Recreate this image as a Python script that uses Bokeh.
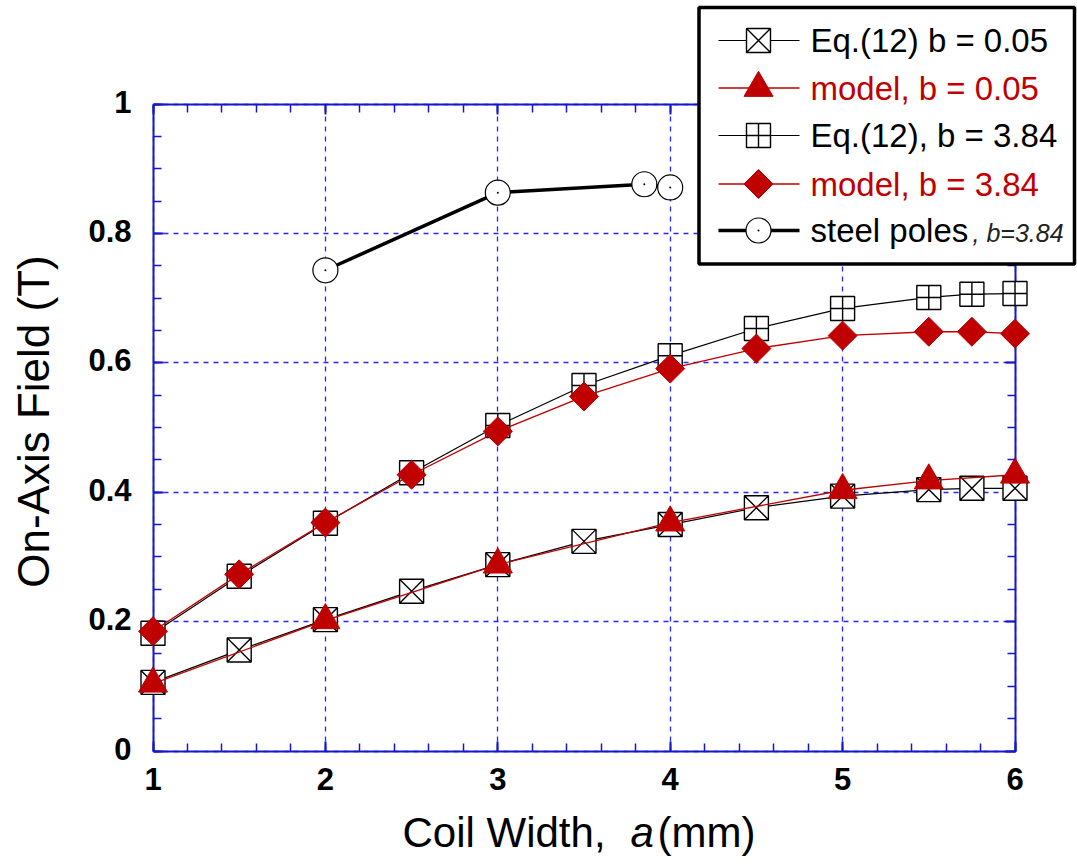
import numpy as np
from math import pi
from bokeh.plotting import figure
from bokeh.models import Range1d, LinearAxis, FixedTicker, Grid
from bokeh.core.properties import value
from bokeh.embed import file_html
from bokeh.resources import INLINE

# ---------------- data ----------------
x_eq = [1, 1.5, 2, 2.5, 3, 3.5, 4, 4.5, 5, 5.5, 5.75, 6]
eq_b005 = [0.106, 0.156, 0.203, 0.247, 0.288, 0.324, 0.350, 0.376, 0.394, 0.404, 0.406, 0.406]
eq_b384 = [0.182, 0.270, 0.352, 0.430, 0.503, 0.565, 0.611, 0.653, 0.684, 0.701, 0.706, 0.707]

x_model_b005 = [1, 2, 3, 4, 5, 5.5, 6]
model_b005 = [0.104, 0.202, 0.288, 0.353, 0.403, 0.418, 0.427]

x_model_b384 = [1, 1.5, 2, 2.5, 3, 3.5, 4, 4.5, 5, 5.5, 5.75, 6]
model_b384 = [0.185, 0.273, 0.353, 0.427, 0.494, 0.548, 0.591, 0.622, 0.642, 0.648, 0.648, 0.645]

x_steel = [2, 3, 3.85, 4]
steel = [0.743, 0.863, 0.876, 0.871]

x_ticks = [1, 2, 3, 4, 5, 6]
x_tick_labels = ["1", "2", "3", "4", "5", "6"]
y_ticks = [0, 0.2, 0.4, 0.6, 0.8, 1.0]
y_tick_labels = ["0", "0.2", "0.4", "0.6", "0.8", "1"]

legend_labels = ["Eq.(12) b = 0.05", "model, b = 0.05", "Eq.(12), b = 3.84",
                 "model, b = 3.84", "steel poles"]
legend_note = ", b=3.84"
x_label_parts = ["Coil Width,", "a", "(mm)"]
y_label = "On-Axis Field (T)"

# ---------------- layout (pixels) ----------------
W, H = 1077, 864
X0_PX, X1_PX = 152.5, 1014.5                # pixel of first / last x tick
Y0_PX, Y1_PX = 750.5, 103.5                 # pixel of first / last y tick
XMIN, XMAX = x_ticks[0], x_ticks[-1]
YMIN, YMAX = y_ticks[0], y_ticks[-1]
SX = (X1_PX - X0_PX) / (XMAX - XMIN)
SY = (Y0_PX - Y1_PX) / (YMAX - YMIN)


def px2x(px):
    return XMIN + (px - X0_PX) / SX


def py2y(py):
    return YMIN + (Y0_PX - py) / SY


BLUE = "#1616cc"
GRID_BLUE = "#0000ff"
RED = "#c00000"
FONT = "Liberation Sans"

p = figure(frame_width=W, frame_height=H,
           min_border_left=0, min_border_top=0, min_border_right=0, min_border_bottom=0,
           x_range=Range1d(px2x(0), px2x(W)),
           y_range=Range1d(py2y(H), py2y(0)),
           x_axis_type=None, y_axis_type=None,
           output_backend="svg", toolbar_location=None)
p.outline_line_color = None
p.background_fill_color = "white"
p.border_fill_color = "white"

x_minor = [round(v, 2) for v in np.arange(XMIN, XMAX + 1e-9, 0.2)]
y_minor = [round(v, 2) for v in np.arange(YMIN, YMAX + 1e-9, 0.05)]


def make_axis(loc, bounds, ticks, minor):
    ax = LinearAxis(fixed_location=loc, bounds=bounds,
                    ticker=FixedTicker(ticks=ticks, minor_ticks=minor))
    ax.axis_line_color = BLUE
    ax.axis_line_width = 2
    ax.major_tick_line_color = BLUE
    ax.major_tick_line_width = 2
    ax.minor_tick_line_color = BLUE
    ax.minor_tick_line_width = 1.5
    ax.major_tick_in = 10
    ax.major_tick_out = 0
    ax.minor_tick_in = 8
    ax.minor_tick_out = 0
    ax.major_label_overrides = {t: "" for t in ticks}
    ax.major_label_text_font_size = "0px"
    ax.major_label_standoff = 0
    return ax


p.add_layout(make_axis(YMIN, (XMIN, XMAX), x_ticks, x_minor), "below")
p.add_layout(make_axis(XMIN, (YMIN, YMAX), y_ticks, y_minor), "left")
p.add_layout(make_axis(XMAX, (YMIN, YMAX), y_ticks, y_minor), "right")
p.add_layout(make_axis(YMAX, (XMIN, XMAX), x_ticks, x_minor), "above")

# tick labels (bold), placed at the tick values
p.text(x=x_ticks, y=[YMIN] * len(x_ticks), text=x_tick_labels, y_offset=27.5,
       text_font=value(FONT), text_font_style="bold", text_font_size="31px",
       text_color="black", text_align="center", text_baseline="middle")
p.text(x=[XMIN] * len(y_ticks), y=y_ticks, text=y_tick_labels, x_offset=-21.5,
       y_offset=-2.5, text_font=value(FONT), text_font_style="bold",
       text_font_size="31px", text_color="black", text_align="right",
       text_baseline="middle")

# grid lines (dashed, blue)
grid_kw = dict(grid_line_color=GRID_BLUE, grid_line_alpha=0.85, grid_line_width=1.3,
               grid_line_dash="5 5")
try:
    gx = Grid(dimension=0, ticker=FixedTicker(ticks=x_ticks), bounds=(XMIN, XMAX),
              cross_bounds=(YMIN, YMAX), **grid_kw)
    gy = Grid(dimension=1, ticker=FixedTicker(ticks=y_ticks), bounds=(YMIN, YMAX),
              cross_bounds=(XMIN, XMAX), **grid_kw)
    p.add_layout(gx, "center")
    p.add_layout(gy, "center")
except AttributeError:
    p.segment(x0=x_ticks, y0=[YMIN] * len(x_ticks), x1=x_ticks, y1=[YMAX] * len(x_ticks),
              line_color=GRID_BLUE, line_alpha=0.85, line_width=1.3, line_dash="5 5",
              level="underlay")
    p.segment(x0=[XMIN] * len(y_ticks), y0=y_ticks, x1=[XMAX] * len(y_ticks), y1=y_ticks,
              line_color=GRID_BLUE, line_alpha=0.85, line_width=1.3, line_dash="5 5",
              level="underlay")

LV = "annotation"
# Eq.(12) b = 0.05
p.line(x_eq, eq_b005, line_color="black", line_width=1.2, level=LV)
p.scatter(x_eq, eq_b005, marker="square_x", size=24, fill_color="white",
          line_color="black", line_width=1.4, level=LV)
# model b = 0.05
p.line(x_model_b005, model_b005, line_color=RED, line_width=1.3, level=LV)
p.scatter(x_model_b005, model_b005, marker="triangle", size=29, fill_color=RED,
          line_color=RED, line_width=1, level=LV)
# Eq.(12) b = 3.84
p.line(x_eq, eq_b384, line_color="black", line_width=1.2, level=LV)
p.scatter(x_eq, eq_b384, marker="square_cross", size=24, fill_color="white",
          line_color="black", line_width=1.4, level=LV)
# model b = 3.84
p.line(x_model_b384, model_b384, line_color=RED, line_width=1.3, level=LV)
p.scatter(x_model_b384, model_b384, marker="square", angle=pi / 4, size=20.5,
          fill_color=RED, line_color=RED, line_width=1, level=LV)
# steel poles
p.line(x_steel, steel, line_color="black", line_width=3.5, level=LV)
p.scatter(x_steel, steel, marker="circle", size=25, fill_color="white",
          line_color="black", line_width=1.2, level=LV)
p.scatter(x_steel, steel, marker="circle", size=2, fill_color="black",
          line_color=None, level=LV)

# ---------------- legend (drawn) ----------------
LG = "overlay"
p.quad(left=[px2x(698.5)], right=[px2x(1074)], top=[py2y(7)], bottom=[py2y(263.5)],
       fill_color="white", line_color="black", line_width=3.5, level=LG)
row_px = [40, 87.5, 135, 183.5, 230]
row_y = [py2y(r) for r in row_px]
n = len(row_px)
p.segment(x0=[px2x(718)] * n, y0=row_y, x1=[px2x(799)] * n, y1=row_y,
          line_color=["black", RED, "black", RED, "black"],
          line_width=[1.2, 1.3, 1.2, 1.3, 3.5], level=LG)
p.scatter(x=[px2x(758)] * n, y=row_y,
          marker=["square_x", "triangle", "square_cross", "square", "circle"],
          size=[24, 29, 24, 20.5, 25], angle=[0, 0, 0, pi / 4, 0],
          fill_color=["white", RED, "white", RED, "white"],
          line_color=["black", RED, "black", RED, "black"],
          line_width=[1.4, 1, 1.4, 1, 1.2], level=LG)
p.scatter(x=[px2x(758)], y=[row_y[4]], marker="circle", size=2, fill_color="black",
          line_color=None, level=LG)
p.text(x=[px2x(810)] * n, y=row_y, text=legend_labels,
       text_color=["black", RED, "black", RED, "black"],
       text_font=value(FONT), text_font_size="33px", text_baseline="middle",
       text_align="left", level=LG)
p.text(x=[px2x(972)], y=[py2y(row_px[4] + 2.8)], text=[legend_note],
       text_color="#222222", text_font=value(FONT), text_font_style="italic",
       text_font_size="25px", text_baseline="middle", text_align="left", level=LG)

# ---------------- axis titles ----------------
p.text(x=[px2x(xp) for xp in [402, 630, 657]], y=[py2y(832)] * 3, text=x_label_parts,
       text_font=value(FONT), text_font_size="42px",
       text_font_style=["normal", "italic", "normal"],
       text_color="black", text_align="left", text_baseline="middle")
p.text(x=[px2x(33)], y=[py2y(421)], text=[y_label], angle=pi / 2,
       text_font=value(FONT), text_font_size="44px", text_color="black",
       text_align="center", text_baseline="middle")

open("out.html", "w").write(file_html(p, INLINE))
